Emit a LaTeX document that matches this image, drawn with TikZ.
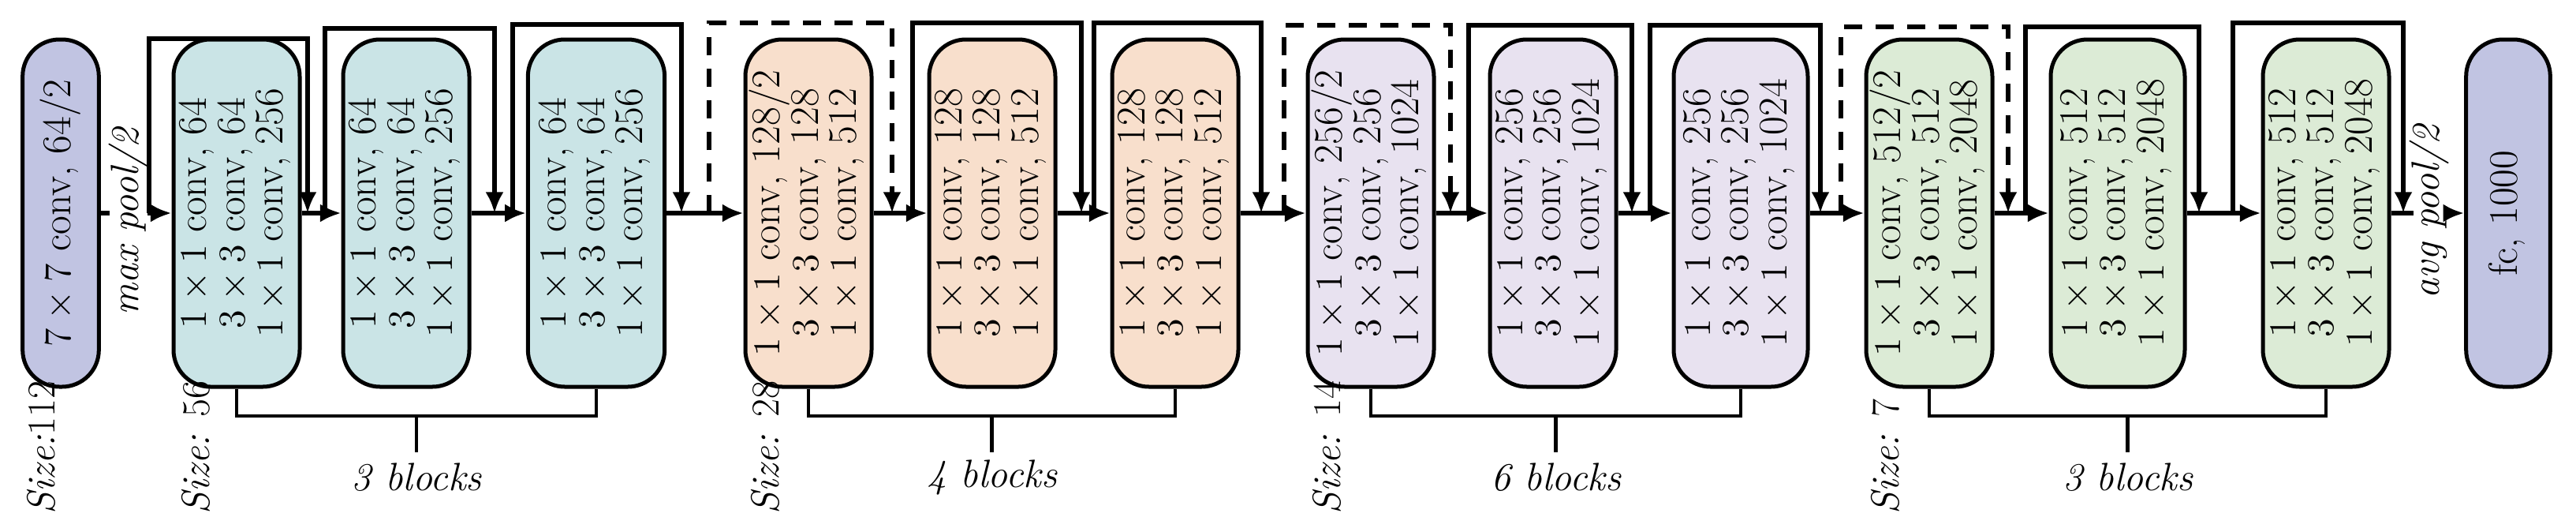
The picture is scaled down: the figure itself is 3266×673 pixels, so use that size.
\documentclass[tikz,border=0pt]{standalone}
\usetikzlibrary{arrows.meta,calc}
\definecolor{cpur}{HTML}{C1C4E2}
\definecolor{cteal}{HTML}{CAE4E6}
\definecolor{corg}{HTML}{F8DFCC}
\definecolor{clav}{HTML}{E8E2F0}
\definecolor{cgrn}{HTML}{DCEBD6}
\newcommand{\rtx}[1]{\rotatebox{90}{\begin{tabular}{@{}c@{}}#1\end{tabular}}}
\begin{document}
\begin{tikzpicture}[x=0.3pt,y=-0.3pt,
  blk/.style={draw,line width=1.5pt,rounded corners=14pt,minimum height=132pt,inner sep=0pt,
    font=\fontsize{15.5}{14.2}\selectfont},
  ln/.style={line width=1.6pt},
  arr/.style={ln,-{Latex[length=8pt,width=7pt]}},
  dsh/.style={arr,dash pattern=on 7pt off 5pt},
  lab/.style={font=\fontsize{15}{17}\selectfont\itshape},
  sz/.style={lab,rotate=90,anchor=west,inner sep=0pt}]
\useasboundingbox (0,0) rectangle (3266,673);
% boxes
\node[blk,fill=cpur,minimum width=29pt] (p0) at (77,270) {\rtx{$7\times7$ conv, 64/2}};
\node[blk,fill=cteal,minimum width=48pt] (b1) at (300,270) {\rtx{$1\times1$ conv, 64\\$3\times3$ conv, 64\\$1\times1$ conv, 256}};
\node[blk,fill=cteal,minimum width=48pt] (b2) at (515,270) {\rtx{$1\times1$ conv, 64\\$3\times3$ conv, 64\\$1\times1$ conv, 256}};
\node[blk,fill=cteal,minimum width=52pt] (b3) at (756,270) {\rtx{$1\times1$ conv, 64\\$3\times3$ conv, 64\\$1\times1$ conv, 256}};
\node[blk,fill=corg,minimum width=48pt] (o1) at (1025,270) {\rtx{$1\times1$ conv, 128/2\\$3\times3$ conv, 128\\$1\times1$ conv, 512}};
\node[blk,fill=corg,minimum width=48pt] (o2) at (1258,270) {\rtx{$1\times1$ conv, 128\\$3\times3$ conv, 128\\$1\times1$ conv, 512}};
\node[blk,fill=corg,minimum width=48pt] (o3) at (1490,270) {\rtx{$1\times1$ conv, 128\\$3\times3$ conv, 128\\$1\times1$ conv, 512}};
\node[blk,fill=clav,minimum width=48pt] (q1) at (1738,270) {\rtx{$1\times1$ conv, 256/2\\$3\times3$ conv, 256\\$1\times1$ conv, 1024}};
\node[blk,fill=clav,minimum width=48pt] (q2) at (1969,270) {\rtx{$1\times1$ conv, 256\\$3\times3$ conv, 256\\$1\times1$ conv, 1024}};
\node[blk,fill=clav,minimum width=51pt] (q3) at (2207,270) {\rtx{$1\times1$ conv, 256\\$3\times3$ conv, 256\\$1\times1$ conv, 1024}};
\node[blk,fill=cgrn,minimum width=48pt] (g1) at (2446,270) {\rtx{$1\times1$ conv, 512/2\\$3\times3$ conv, 512\\$1\times1$ conv, 2048}};
\node[blk,fill=cgrn,minimum width=51pt] (g2) at (2685,270) {\rtx{$1\times1$ conv, 512\\$3\times3$ conv, 512\\$1\times1$ conv, 2048}};
\node[blk,fill=cgrn,minimum width=48pt] (g3) at (2949,270) {\rtx{$1\times1$ conv, 512\\$3\times3$ conv, 512\\$1\times1$ conv, 2048}};
\node[blk,fill=cpur,minimum width=32pt] (fc) at (3180,270) {\rtx{fc, 1000}};
% main line
\coordinate (m0) at (139,270);
\coordinate (m1) at (187,270);
\coordinate (m2) at (3060,270);
\coordinate (m3) at (3104,270);
\draw[ln] (p0.east) -- (m0);
\draw[arr] (m1) -- (b1.west);
\draw[arr] (b1.east) -- (b2.west);
\draw[arr] (b2.east) -- (b3.west);
\draw[arr] (b3.east) -- (o1.west);
\draw[arr] (o1.east) -- (o2.west);
\draw[arr] (o2.east) -- (o3.west);
\draw[arr] (o3.east) -- (q1.west);
\draw[arr] (q1.east) -- (q2.west);
\draw[arr] (q2.east) -- (q3.west);
\draw[arr] (q3.east) -- (g1.west);
\draw[arr] (g1.east) -- (g2.west);
\draw[arr] (g2.east) -- (g3.west);
\draw[ln] (g3.east) -- (m2);
\draw[arr] (m3) -- (fc.west);
\node[lab,rotate=90] (mp) at (163,281) {max pool/2};
\node[lab,rotate=90] (ap) at (3080,268) {avg pool/2};
% shortcuts
\foreach \s/\e/\t/\st in {189/390/49/arr,412/627/36/arr,650/864/31/arr,
  899/1131/29/dsh,1157/1371/29/arr,1387/1599/29/arr,
  1628/1839/32/dsh,1862/2069/32/arr,2092/2308/32/arr,
  2334/2546/34/dsh,2568/2788/34/arr,2831/3047/29/arr}{
  \coordinate (s\s) at (\s,270);
  \coordinate (e\s) at (\e,270);
  \draw[\st] (s\s) -- (\s,\t) -- (\e,\t) -- (e\s);
}
% brackets
\foreach \a/\b/\n in {b1/b3/3,o1/o3/4,q1/q3/6,g1/g3/3}{
  \draw[ln,line width=1.3pt] (\a.south) -- (\a.south |- 0,527) -- (\b.south |- 0,527) -- (\b.south);
  \path (\a.south) -- (\b.south) coordinate[pos=0.5] (c\a);
  \draw[ln,line width=1.3pt] (c\a |- 0,527) -- (c\a |- 0,573);
  \node[lab] (t\a) at (c\a |- 0,605) {\n\ blocks};
}
% sizes
\node[sz] (s1) at (52,652) {Size:\upshape 112};
\node[sz] (s2) at (248,652) {Size: \upshape 56};
\node[sz] (s3) at (970,652) {Size: \upshape 28};
\node[sz] (s4) at (1682,652) {Size: \upshape 14};
\node[sz] (s5) at (2390,652) {Size: \upshape 7};
\end{tikzpicture}
\end{document}
